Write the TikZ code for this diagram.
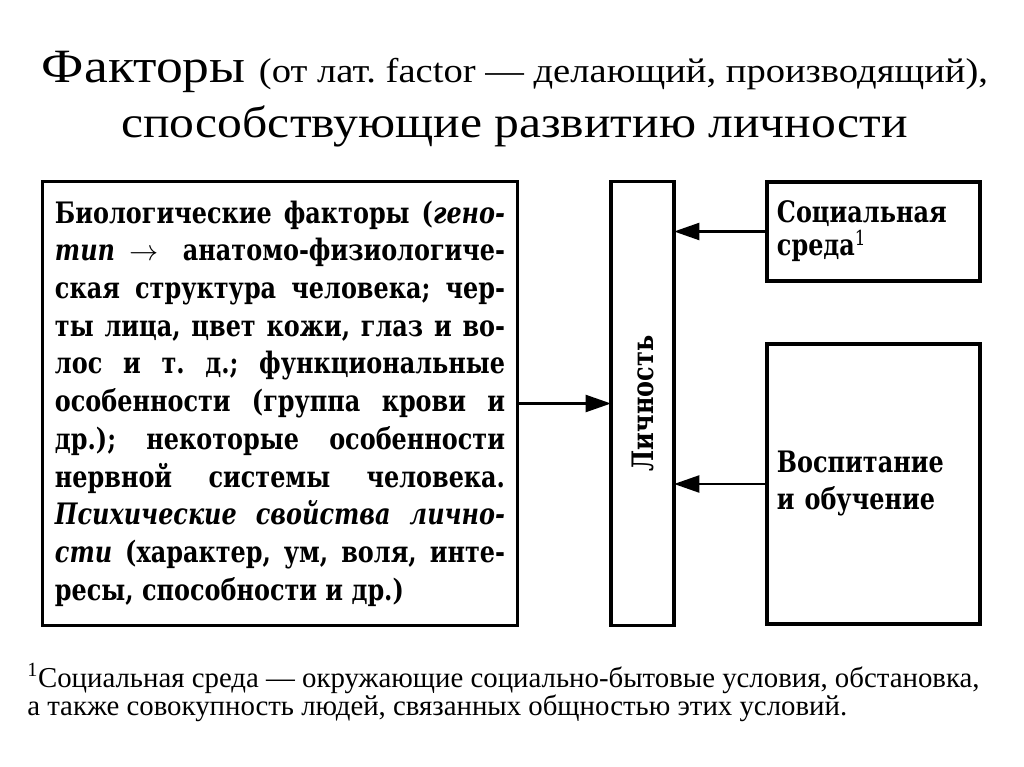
\documentclass[tikz,border=0pt]{standalone}
\usepackage{fontspec}
\setmainfont{Liberation Serif}
\newfontfamily\titlefont[FakeStretch=1.12]{Liberation Serif}
\newfontfamily\blocfont[FakeStretch=0.81]{DejaVu Serif}
\usetikzlibrary{arrows.meta}
\frenchspacing

\begin{document}
\begin{tikzpicture}[x=0.025cm, y=-0.025cm,
    bloc/.style={draw, line width=2.2pt, 
        font=\blocfont\bfseries\fontsize{21}{26.8}\selectfont,
        outer sep=0pt, inner sep=0pt},
    fletxa/.style={line width=1.9pt, 
        -{Triangle[length=18pt, width=12pt]}},
    titol/.style={font=\titlefont, anchor=base, inner sep=0pt},
    nota/.style={font=\fontsize{20.5}{22}\selectfont, 
        anchor=base west, inner sep=0pt}
    ]
    \useasboundingbox (0,0) rectangle (1024,767);
    % title
    \node[titol] (t1) at (515,83) {{\fontsize{34}{34}\selectfont Факторы }%
        {\fontsize{24.5}{24.5}\selectfont(от лат. factor — делающий, производящий),}};
    \node[titol, font=\titlefont\fontsize{31.5}{31.5}\selectfont] 
        (t2) at (514.5,138) {способствующие развитию личности};
    % boxes
    \node[bloc, text width=11.25cm, minimum width=11.85cm, 
        minimum height=11.075cm, align=justify] (bio) at (280,403.5)
        {\exhyphenpenalty=10000 Биологические факторы (\textit{гено-}\linebreak
        \textit{тип}\enspace $\rightarrow$ анатомо-физиологиче-\linebreak
        ская структура человека; чер-\linebreak
        ты лица, цвет кожи, глаз и во-\linebreak
        лос и т. д.; функциональные\linebreak
        особенности (группа крови и\linebreak
        др.); некоторые особенности\linebreak
        нервной системы человека.\linebreak
        \textit{Психические свойства лично-}\linebreak
        \textit{сти} (характер, ум, воля, инте-\linebreak
        ресы, способности и др.)};
    \node[bloc, minimum width=1.575cm, minimum height=11.075cm] 
        (pers) at (642.5,403.5) {};
    \node[font=\blocfont\bfseries\fontsize{21}{21}\selectfont, rotate=90] 
        (perstxt) at (pers.center) {Личность};
    \node[bloc, text width=4.825cm, minimum width=5.325cm, 
        minimum height=2.475cm, align=left,
        font=\blocfont\bfseries\fontsize{21}{23.5}\selectfont] 
        (soc) at (873.5,231.5) {Социальная\\ среда\textsuperscript{\mdseries 1}};
    \node[bloc, text width=4.825cm, minimum width=5.325cm, 
        minimum height=7cm, align=left,
        font=\blocfont\bfseries\fontsize{21}{26.3}\selectfont] 
        (edu) at (873.5,484) {Воспитание\\ и обучение};
    % arrows
    \draw[fletxa] (bio.east) -- (bio.east -| pers.west);
    \draw[fletxa] (soc.west) -- (soc.west -| pers.east);
    \draw[fletxa] (edu.west) -- (edu.west -| pers.east);
    % footnote
    \node[nota] (n1) at (27,687) {\textsuperscript{1}Социальная среда — окружающие 
        социально-бытовые условия, обстановка,};
    \node[nota] (n2) at (27,715) {а также совокупность людей, связанных 
        общностью этих условий.};
\end{tikzpicture}
\end{document}
